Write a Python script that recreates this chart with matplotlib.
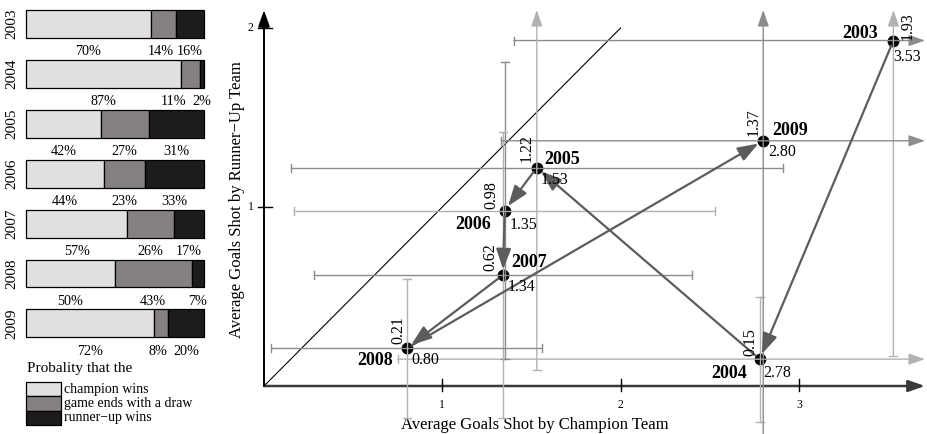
import numpy as np
import matplotlib
matplotlib.use('Agg')
import matplotlib.pyplot as plt

plt.rcParams['font.family'] = ['Liberation Serif', 'DejaVu Serif']

# --- data ---
years = ['2003', '2004', '2005', '2006', '2007', '2008', '2009']
champion_wins = [70, 87, 42, 44, 57, 50, 72]
draws = [14, 11, 27, 23, 26, 43, 8]
runner_up_wins = [16, 2, 31, 33, 17, 7, 20]
legend_labels = ['champion wins', 'game ends with a draw', 'runner\u2212up wins']

goals_champion = [3.53, 2.78, 1.53, 1.35, 1.34, 0.80, 2.80]
goals_runner_up = [1.93, 0.15, 1.22, 0.98, 0.62, 0.21, 1.37]
spread_champion = [2.13, 2.03, 1.38, 1.18, 1.06, 0.76, 1.47]
spread_runner_up = [1.76, 0.35, 1.13, 0.83, 0.80, 0.39, 1.70]

# --- styles ---
seg_colors = ['#e1e0e1', '#858180', '#1d1c1b']
LIGHT, MID = '#b2b2b2', '#8c8c8c'
hcolors = [MID, LIGHT, MID, LIGHT, MID, MID, MID]
vcolors = [LIGHT, LIGHT, LIGHT, MID, LIGHT, LIGHT, MID]
# label offsets in pixels (dx, dy up) from each point
year_off = [(-33, 7.5), (-31, -14), (25, 8.5), (-31.5, -14), (26, 13), (-31.5, -12), (27, 10)]
xval_off = [(14, -16.5), (18, -14), (18, -12), (19, -14), (19, -12), (19, -12), (19, -11)]
yval_off = [(14, 14.5), (-9, 17), (-10, 19.5), (-13, 16), (-13, 18), (-8.5, 18), (-9.5, 19)]

W, H = 927, 434
fig = plt.figure(figsize=(W / 100, H / 100), dpi=100)

# ---------------- left panel: stacked bars ----------------
axb = fig.add_axes([0, 0, 227 / W, 1])
px_per_pct = 1.78
axb.set_xlim(-26 / px_per_pct, (227 - 26) / px_per_pct)
pitch, row0 = 49.9, 24
axb.set_ylim((H - row0) / pitch, -row0 / pitch)
axb.axis('off')

for i, year in enumerate(years):
    vals = [champion_wins[i], draws[i], runner_up_wins[i]]
    left = 0
    centers = []
    for v, c in zip(vals, seg_colors):
        axb.barh(i, v, left=left, height=0.56, color=c, edgecolor='black', linewidth=0.9)
        centers.append(left + v / 2)
        left += v
    # keep the percentage labels from overlapping
    gap = 16
    centers[2] = min(centers[2], 100)
    centers[1] = min(centers[1], centers[2] - gap)
    centers[0] = min(centers[0], centers[1] - gap)
    for v, cx in zip(vals, centers):
        axb.text(cx, i + 0.56, f'{v}%', ha='center', va='center', fontsize=10.2)
    axb.text(-7.9, i, year, rotation=90, ha='center', va='center', fontsize=11)

axb.text(0.3, (368 - row0) / pitch, 'Probality that the', ha='left', va='center', fontsize=11)
box_h = 14.3 / pitch
box_top = (382 - row0) / pitch
for j, (lab, c) in enumerate(zip(legend_labels, seg_colors)):
    axb.add_patch(plt.Rectangle((0, box_top + j * box_h), 19.7, box_h, facecolor=c,
                                edgecolor='black', linewidth=0.9))
    axb.text(21.3, box_top + (j + 0.5) * box_h, lab, ha='left', va='center', fontsize=10)

# ---------------- right panel: goals scatter ----------------
ax = fig.add_axes([228 / W, 0, (W - 228) / W, 1])
x0, sxp, y0, syp = 264, 178.3, 386, 179
ax.set_xlim((228 - x0) / sxp, (W - x0) / sxp)
ax.set_ylim((y0 - H) / syp, y0 / syp)
ax.axis('off')

x_end, y_end = (925 - x0) / sxp, (y0 - 10) / syp

# axes with arrows
ax.annotate('', xy=(x_end, 0), xytext=(0, 0),
            arrowprops=dict(arrowstyle='-|>,head_length=1.0,head_width=0.35', color='#3a3a3a',
                            lw=1.8, mutation_scale=10, shrinkA=0, shrinkB=0), zorder=2)
ax.annotate('', xy=(0, y_end), xytext=(0, 0),
            arrowprops=dict(arrowstyle='-|>,head_length=1.0,head_width=0.35', color='black',
                            lw=1.4, mutation_scale=10, shrinkA=0, shrinkB=0), zorder=2)
for t in [1, 2, 3]:
    ax.plot([t, t], [-0.03, 0.04], color='black', lw=1, zorder=2)
    ax.text(t, -0.106, str(t), ha='center', va='center', fontsize=8.5)
for t in [1, 2]:
    ax.plot([-0.036, 0.047], [t, t], color='black', lw=1, zorder=2)
    ax.text(-0.058, t, str(t), ha='right', va='center', fontsize=8.5)

ax.text(1.52, -0.218, 'Average Goals Shot by Champion Team', ha='center', va='center', fontsize=12)
ax.text(-0.15, 1.04, 'Average Goals Shot by Runner\u2212Up Team', rotation=90,
        ha='center', va='center', fontsize=12)

# diagonal
ax.plot([0, 2], [0, 2], color='black', lw=0.8, zorder=1)

# spread bars
cap_x, cap_y = 4 / sxp, 4 / syp
small_head = dict(arrowstyle='-|>,head_length=1.1,head_width=0.38', lw=1,
                  mutation_scale=9, shrinkA=0, shrinkB=0)
for i in range(len(years)):
    x, y = goals_champion[i], goals_runner_up[i]
    lo, hi = x - spread_champion[i], x + spread_champion[i]
    hc = hcolors[i]
    ax.plot([lo, lo], [y - cap_y, y + cap_y], color=hc, lw=1, zorder=4)
    if hi > x_end:
        ax.annotate('', xy=(x_end, y), xytext=(lo, y), arrowprops=dict(color=hc, **small_head),
                    zorder=4)
    else:
        ax.plot([lo, hi], [y, y], color=hc, lw=1, zorder=4)
        ax.plot([hi, hi], [y - cap_y, y + cap_y], color=hc, lw=1, zorder=4)

    lo, hi = y - spread_runner_up[i], y + spread_runner_up[i]
    vc = vcolors[i]
    ax.plot([x - cap_x, x + cap_x], [lo, lo], color=vc, lw=1, zorder=4)
    if hi > y_end:
        ax.annotate('', xy=(x, y_end), xytext=(x, lo), arrowprops=dict(color=vc, **small_head),
                    zorder=4)
    else:
        ax.plot([x, x], [lo, hi], color=vc, lw=1, zorder=4)
        ax.plot([x - cap_x, x + cap_x], [hi, hi], color=vc, lw=1, zorder=4)

# points
ax.plot(goals_champion, goals_runner_up, 'o', color='black', markersize=7.5, zorder=3)

# trajectory arrows year to year
for i in range(len(years) - 1):
    ax.annotate('', xy=(goals_champion[i + 1], goals_runner_up[i + 1]),
                xytext=(goals_champion[i], goals_runner_up[i]),
                arrowprops=dict(arrowstyle='-|>,head_length=1.25,head_width=0.45', color='#5c5c5c',
                                lw=1.6, mutation_scale=10, shrinkA=4, shrinkB=4), zorder=5)

# labels
pt = 0.72
for i, year in enumerate(years):
    x, y = goals_champion[i], goals_runner_up[i]
    dx, dy = year_off[i]
    ax.annotate(year, (x, y), xytext=(dx * pt, dy * pt), textcoords='offset points',
                ha='center', va='center', fontsize=13, fontweight='bold', zorder=6)
    dx, dy = xval_off[i]
    ax.annotate(f'{x:.2f}', (x, y), xytext=(dx * pt, dy * pt), textcoords='offset points',
                ha='center', va='center', fontsize=11.5, zorder=6)
    dx, dy = yval_off[i]
    ax.annotate(f'{y:.2f}', (x, y), xytext=(dx * pt, dy * pt), textcoords='offset points',
                ha='center', va='center', fontsize=11.5, rotation=90, zorder=6)

fig.savefig('out.png', dpi=100)
